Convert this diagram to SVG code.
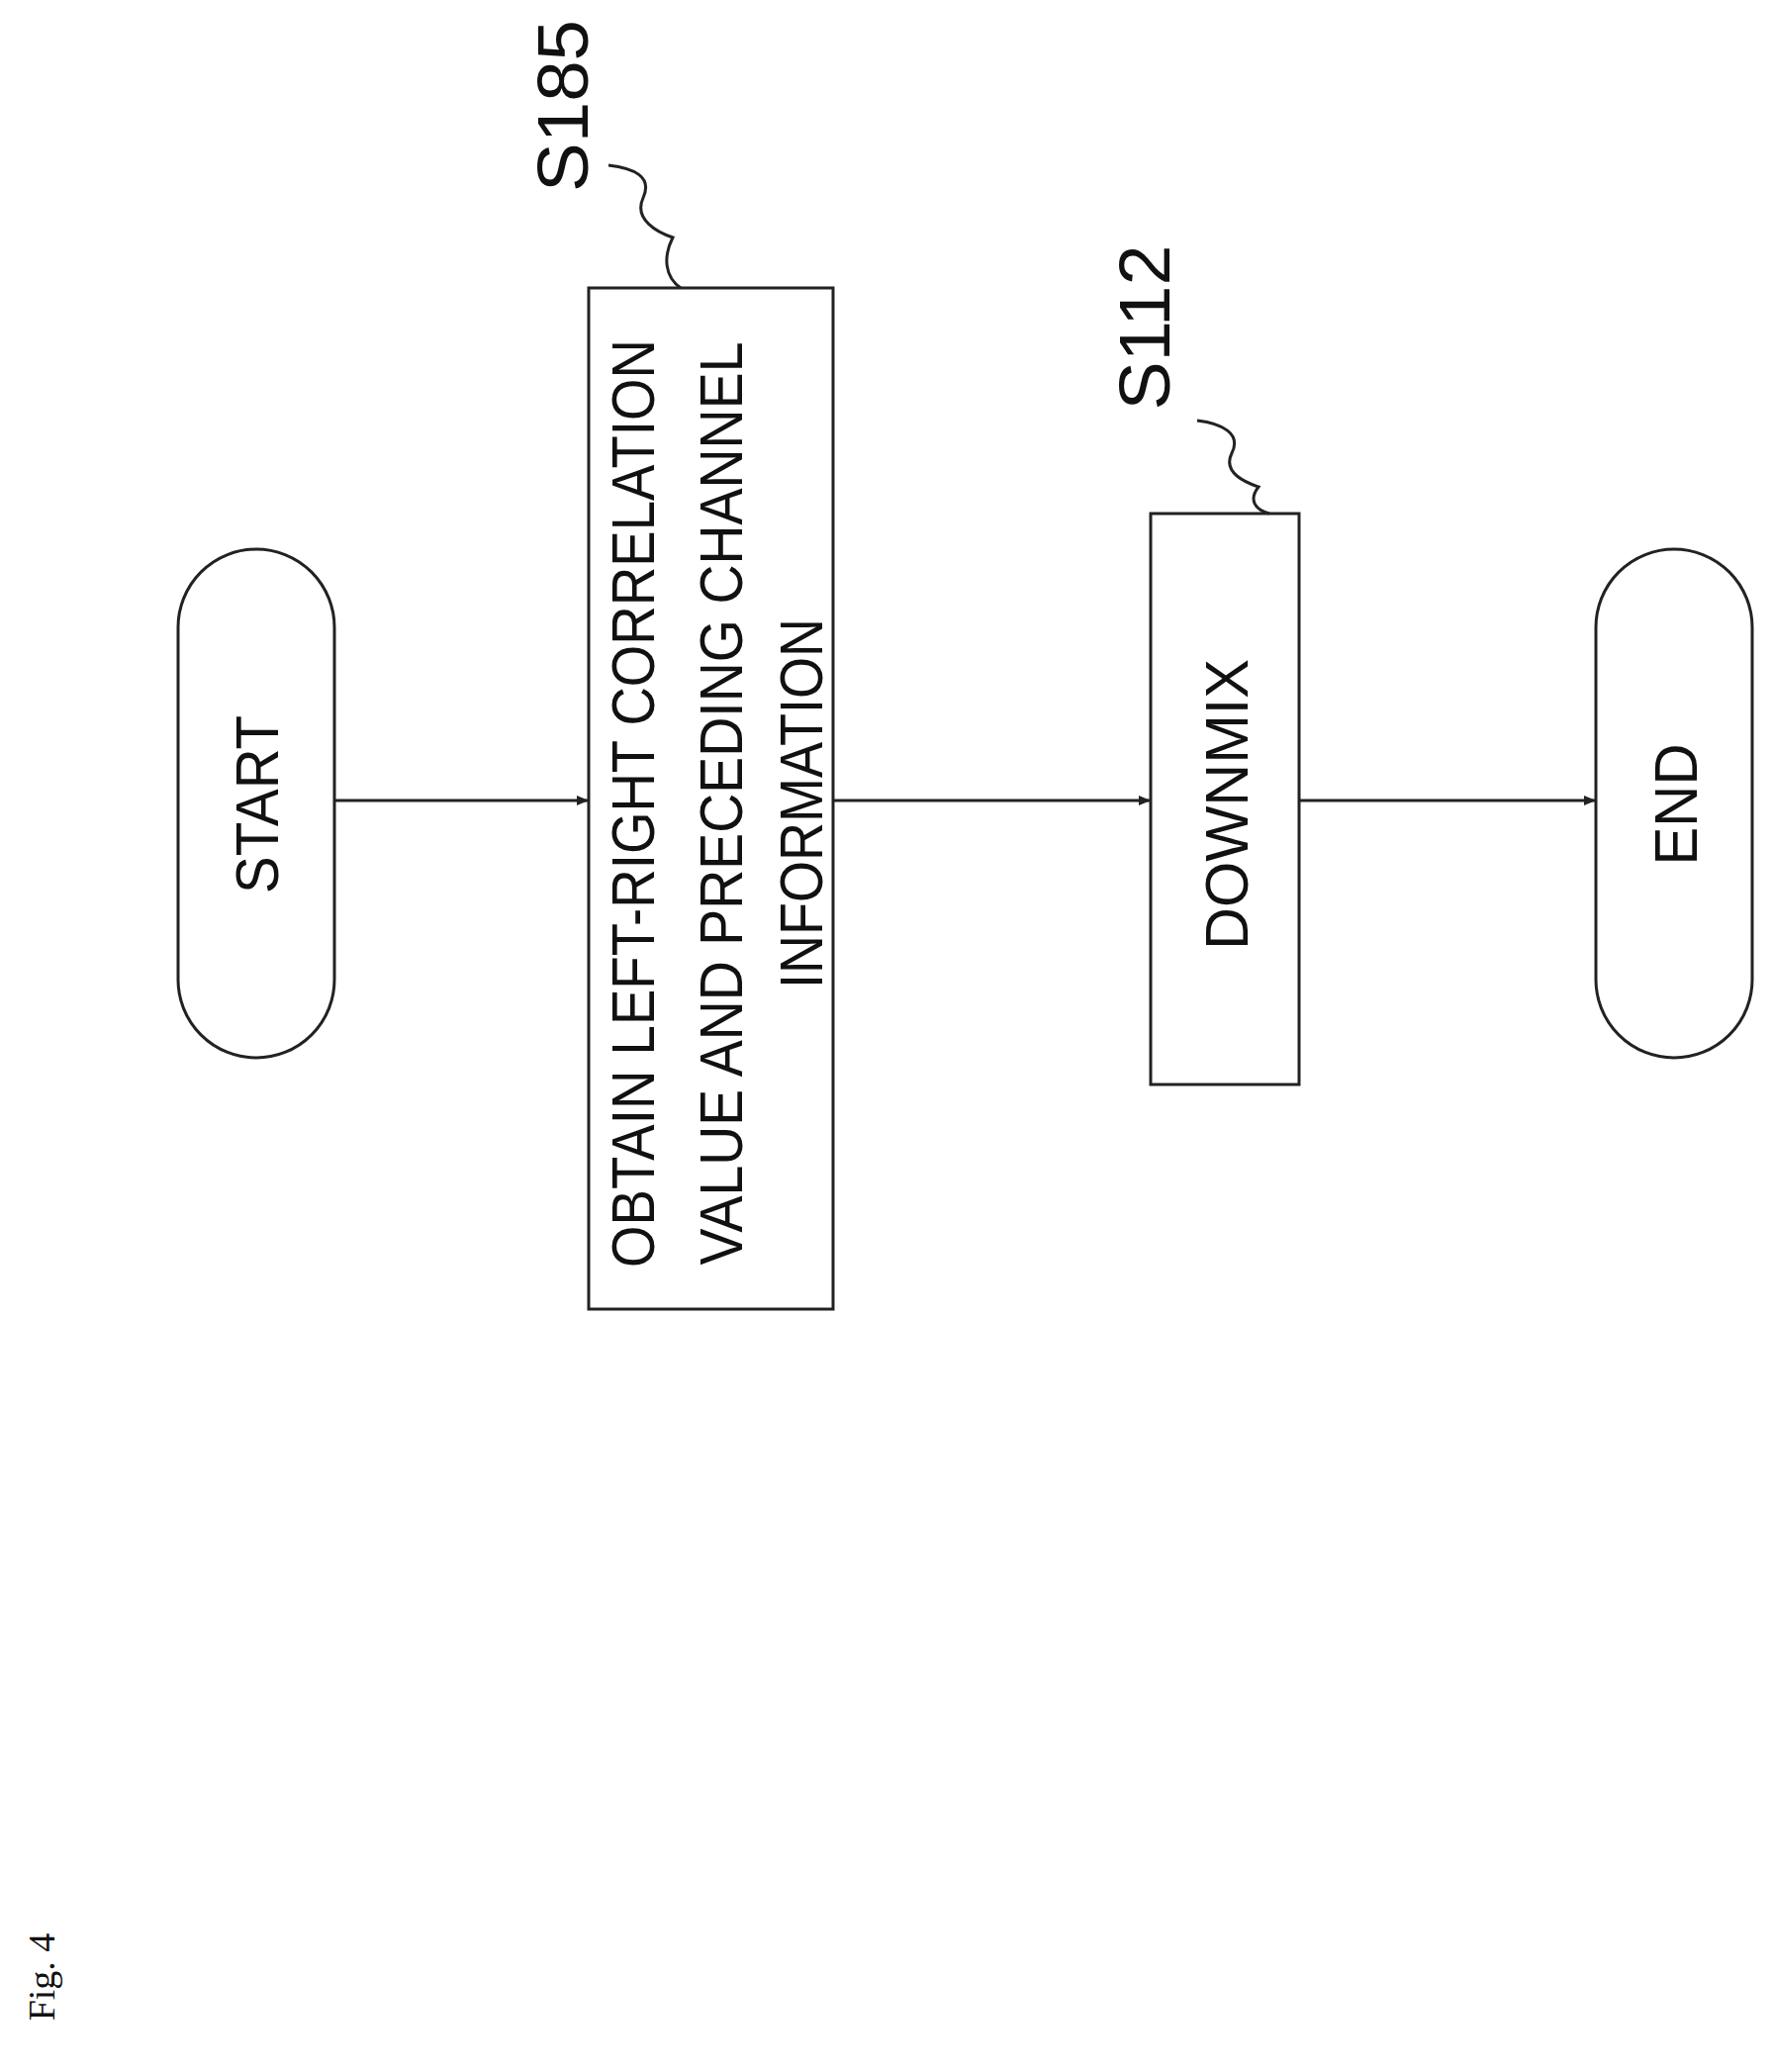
<svg xmlns="http://www.w3.org/2000/svg" width="1791" height="2094" viewBox="0 0 1791 2094">
<style>
.s{fill:none;stroke:#222;stroke-width:3}
.t{font-family:"Liberation Sans",Arial,sans-serif;font-size:62px;fill:#111;text-anchor:middle}
.l{font-family:"Liberation Sans",Arial,sans-serif;font-size:72px;fill:#111;text-anchor:middle}
</style>
<defs><marker id="a" markerWidth="12" markerHeight="10" refX="12" refY="5" orient="auto" markerUnits="userSpaceOnUse" viewBox="0 0 12 10"><path d="M0,0L12,5L0,10z" fill="#222"/></marker></defs>
<rect width="1791" height="2094" fill="#fff"/>
<g id="start"><rect class="s" x="180" y="555" width="158" height="514" rx="79"/>
<text class="t" transform="translate(259,813) rotate(-90)" y="22" textLength="180" lengthAdjust="spacingAndGlyphs">START</text></g>
<g id="s185"><rect class="s" x="595" y="291" width="247" height="1032"/>
<text class="t" transform="translate(639,812) rotate(-90)" y="22" textLength="938" lengthAdjust="spacingAndGlyphs">OBTAIN LEFT-RIGHT CORRELATION</text>
<text class="t" transform="translate(728,812) rotate(-90)" y="22" textLength="933" lengthAdjust="spacingAndGlyphs">VALUE AND PRECEDING CHANNEL</text>
<text class="t" transform="translate(809,812) rotate(-90)" y="22" textLength="374" lengthAdjust="spacingAndGlyphs">INFORMATION</text>
<text class="l" transform="translate(568,107) rotate(-90)" y="26" textLength="174" lengthAdjust="spacingAndGlyphs">S185</text>
<path class="s" d="M615,167 C640,170 660,178 650,200 C640,222 665,235 680,240 C670,260 672,280 688,291"/></g>
<g id="s112"><rect class="s" x="1163" y="519" width="150" height="577"/>
<text class="t" transform="translate(1239,813) rotate(-90)" y="22" textLength="294" lengthAdjust="spacingAndGlyphs">DOWNMIX</text>
<text class="l" transform="translate(1156,331) rotate(-90)" y="26" textLength="167" lengthAdjust="spacingAndGlyphs">S112</text>
<path class="s" d="M1210,425 C1235,428 1255,438 1245,458 C1235,478 1260,488 1272,492 C1262,505 1268,515 1283,519"/></g>
<g id="end"><rect class="s" x="1613" y="555" width="158" height="514" rx="79"/>
<text class="t" transform="translate(1693,813) rotate(-90)" y="22" textLength="123" lengthAdjust="spacingAndGlyphs">END</text></g>
<g id="connectors">
<line class="s" x1="338" y1="809" x2="595" y2="809" marker-end="url(#a)"/>
<line class="s" x1="842" y1="809" x2="1163" y2="809" marker-end="url(#a)"/>
<line class="s" x1="1313" y1="809" x2="1613" y2="809" marker-end="url(#a)"/>
</g>
<text transform="translate(43,1998) rotate(-90)" y="12" font-family="Liberation Serif,serif" font-size="38" text-anchor="middle" fill="#111">Fig. 4</text>
</svg>
